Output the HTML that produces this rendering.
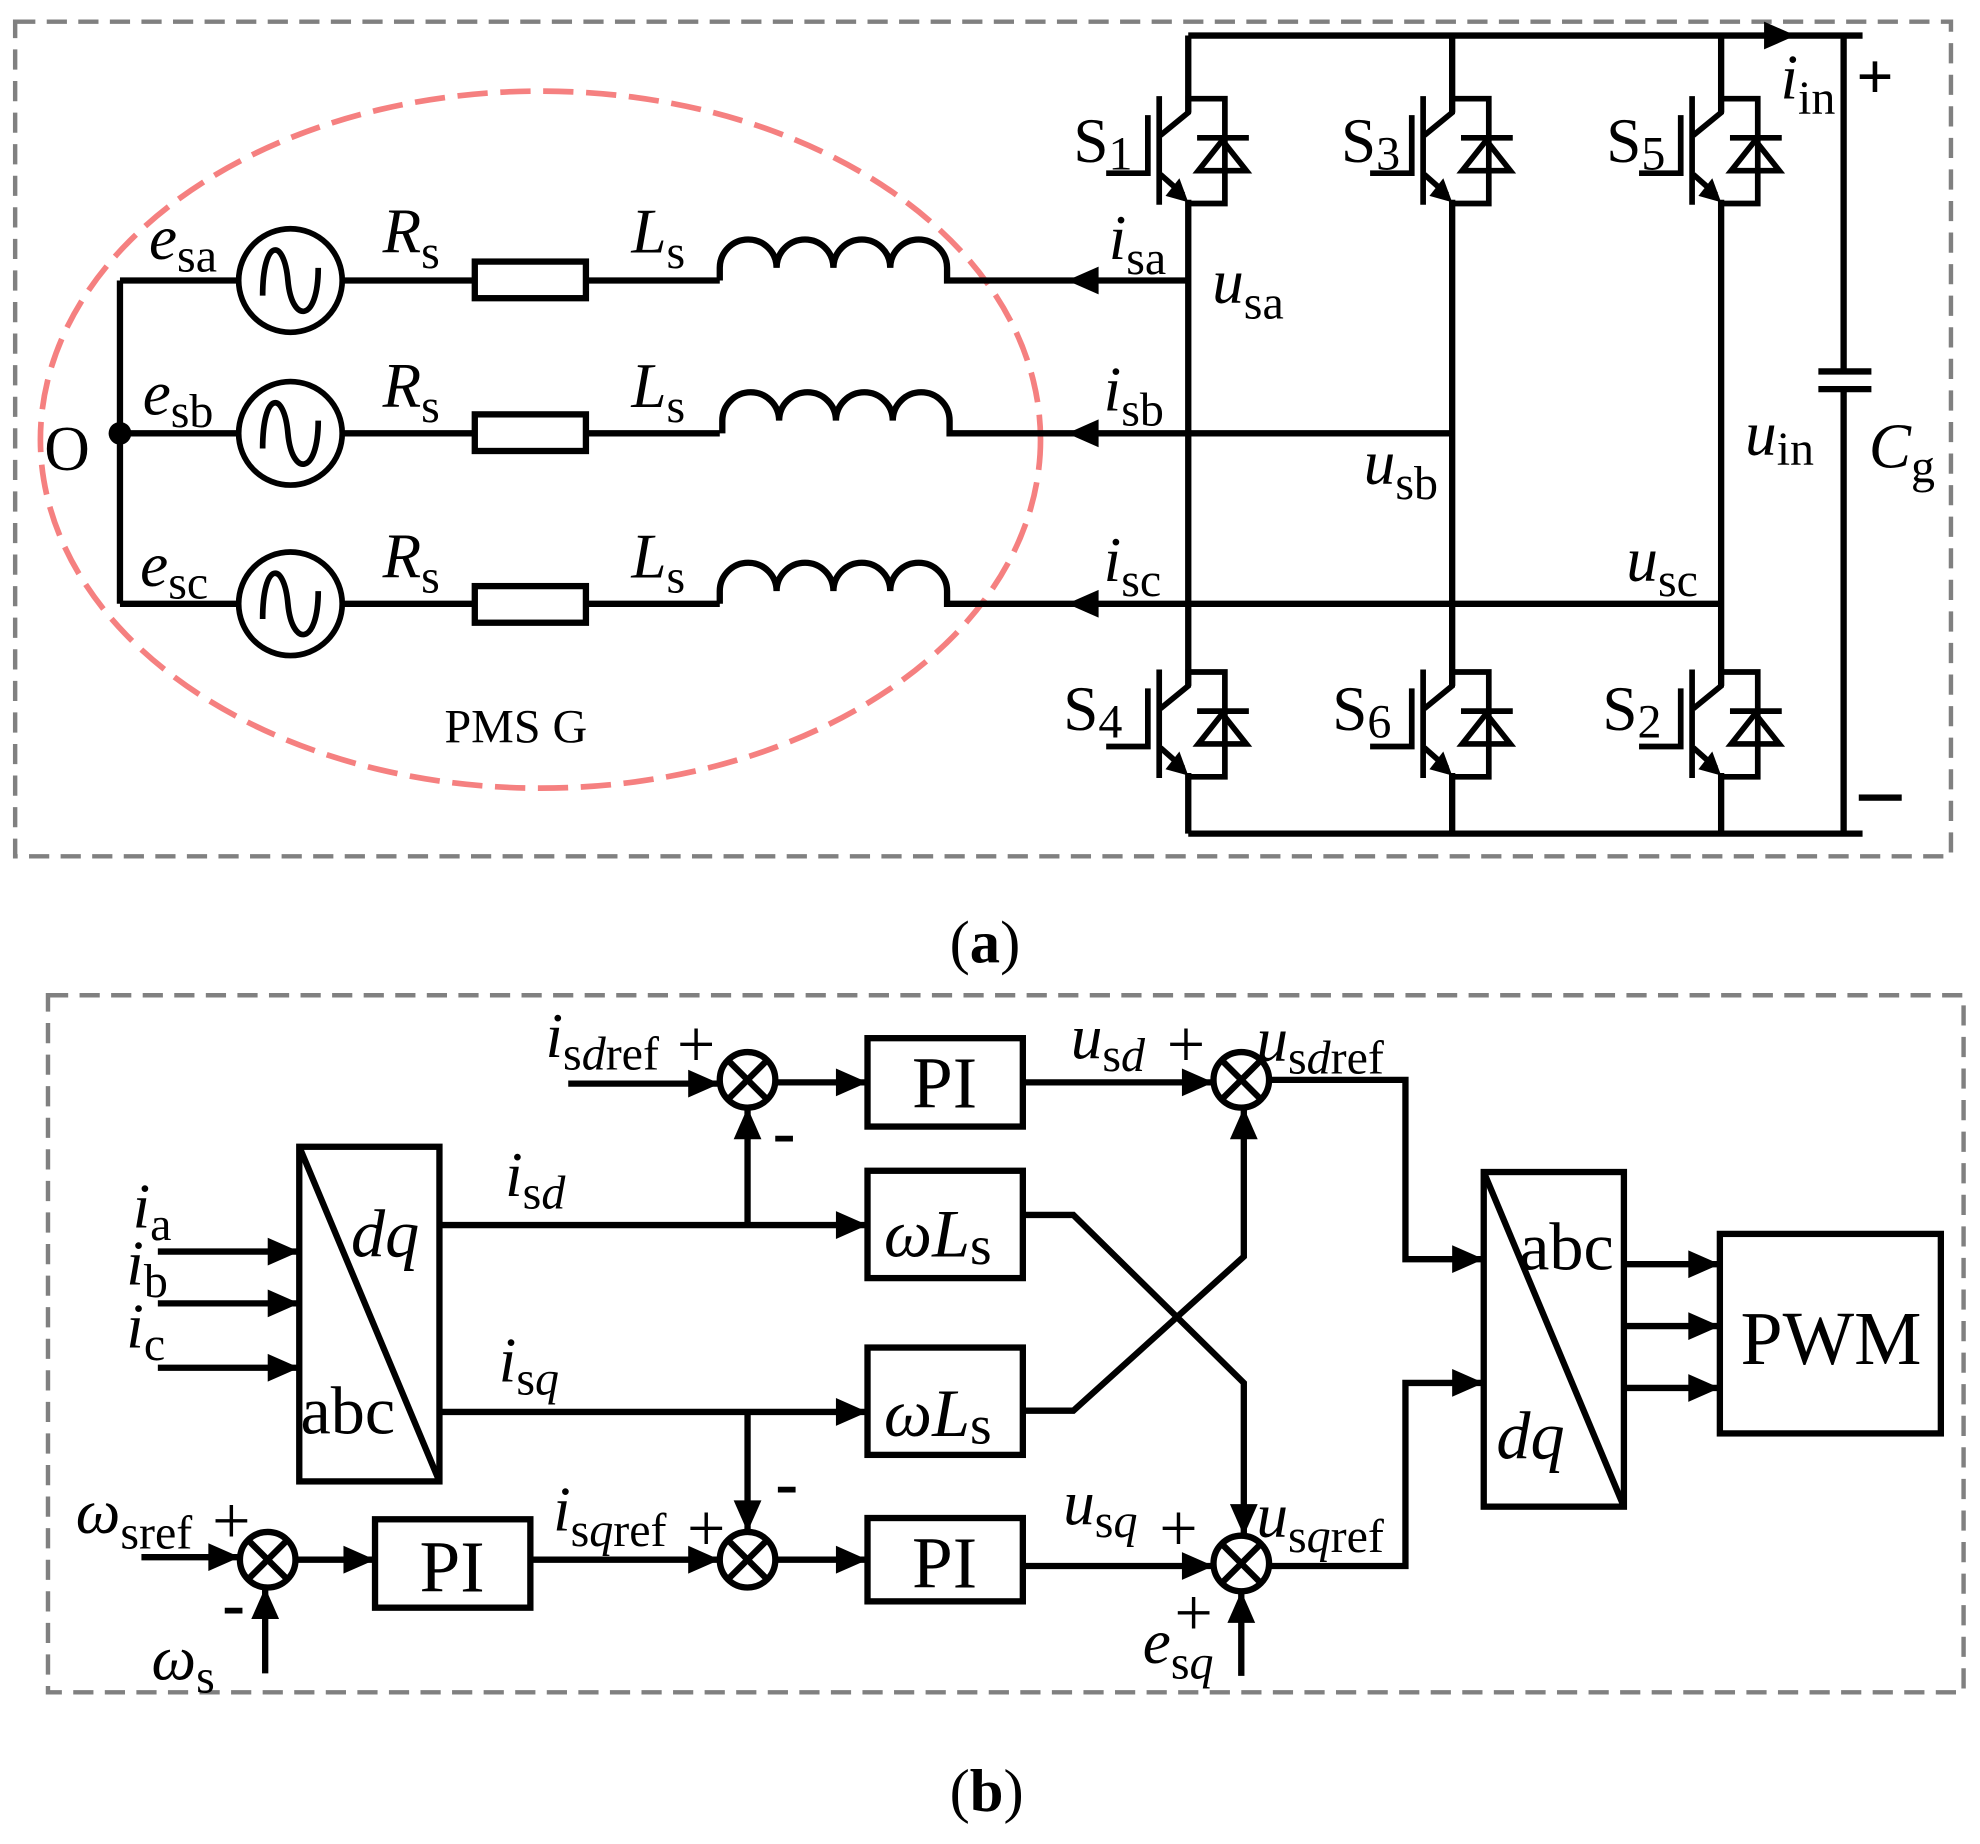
<!DOCTYPE html>
<html><head><meta charset="utf-8"><style>
html,body{margin:0;padding:0;background:#fff;}
svg{display:block;}
text{font-family:"Liberation Serif",serif;fill:#000;}
.i{font-style:italic;}
</style></head><body>
<svg width="1980" height="1844" viewBox="0 0 1568 1460" xmlns="http://www.w3.org/2000/svg">
<defs>
<g id="igbt" fill="none" stroke="#000" stroke-width="4.5">
  <path d="M-23,-2 V84"/>
  <path d="M-65,59 H-32 V13"/>
  <path d="M-22,29 L0,11 V0 H29 V83 H0"/>
  <path d="M-22,60 L-4,76"/>
  <polygon points="0,82 -18,77 -7,63" fill="#000" stroke="none"/>
  <path d="M7,31 H48"/>
  <polygon points="27,33 8,57 46,57" stroke-width="4.5"/>
</g>
<g id="src" fill="none" stroke="#000" stroke-width="4.5">
  <circle cx="0" cy="0" r="41"/>
  <path d="M-22,12 C-22,-34 -5,-34 -2,0 C1,34 22,34 22,-10"/>
</g>
<g id="sum" fill="#fff" stroke="#000" stroke-width="5">
  <circle cx="0" cy="0" r="22"/>
  <path d="M-15,-15 L15,15 M15,-15 L-15,15"/>
</g>
<path id="ah" d="M0,0 L-25,-11 L-25,11 Z" fill="#000"/>
</defs>

<rect x="12" y="17" width="1533" height="661" fill="none" stroke="#808080" stroke-width="3.5" stroke-dasharray="16,9"/>
<ellipse cx="428" cy="348" rx="396" ry="276" fill="none" stroke="#f58080" stroke-width="4.5" stroke-dasharray="24,10"/>

<g fill="none" stroke="#000" stroke-width="5">
  <path d="M95,222 V478"/>
  <path d="M95,222 H189 M271,222 H376 M464,222 H570 M95,343 H189 M271,343 H376 M464,343 H570 M95,478 H189 M271,478 H376 M464,478 H570"/>
  <rect x="376" y="207" width="88" height="29"/>
  <rect x="376" y="328" width="88" height="29"/>
  <rect x="376" y="464" width="88" height="29"/>
  <path d="M570,222 V212 A22.5,22.5 0 0 1 615,212 A22.5,22.5 0 0 1 660,212 A22.5,22.5 0 0 1 705,212 A22.5,22.5 0 0 1 750,212 V222 H941"/>
  <path d="M572,343 V333 A22.5,22.5 0 0 1 617,333 A22.5,22.5 0 0 1 662,333 A22.5,22.5 0 0 1 707,333 A22.5,22.5 0 0 1 752,333 V343 H1150"/>
  <path d="M570,478 V468 A22.5,22.5 0 0 1 615,468 A22.5,22.5 0 0 1 660,468 A22.5,22.5 0 0 1 705,468 A22.5,22.5 0 0 1 750,468 V478 H1363"/>
  <path d="M941,28 H1475 M941,660 H1475"/>
  <path d="M1460,28 V294 M1460,308 V660"/>
  <path d="M1440,294 H1482 M1440,308 H1482"/>
  <path d="M941,28 V89 M941,158 V543 M941,612 V660"/>
  <path d="M1150,28 V89 M1150,158 V543 M1150,612 V660"/>
  <path d="M1363,28 V89 M1363,158 V543 M1363,612 V660"/>
</g>
<circle cx="95" cy="343" r="9" fill="#000"/>
<use href="#src" x="230" y="222"/>
<use href="#src" x="230" y="343"/>
<use href="#src" x="230" y="478"/>
<use href="#ah" transform="translate(845,222) rotate(180)"/>
<use href="#ah" transform="translate(845,343) rotate(180)"/>
<use href="#ah" transform="translate(845,478) rotate(180)"/>
<use href="#ah" transform="translate(1422,28)"/>

<use href="#igbt" x="941" y="78"/>
<use href="#igbt" x="1150" y="78"/>
<use href="#igbt" x="1363" y="78"/>
<use href="#igbt" x="941" y="532"/>
<use href="#igbt" x="1150" y="532"/>
<use href="#igbt" x="1363" y="532"/>

<g font-size="50">
  <text x="850" y="128">S<tspan font-size="38" dy="6">1</tspan></text>
  <text x="1062" y="128">S<tspan font-size="38" dy="6">3</tspan></text>
  <text x="1272" y="128">S<tspan font-size="38" dy="6">5</tspan></text>
  <text x="842" y="578">S<tspan font-size="38" dy="6">4</tspan></text>
  <text x="1055" y="578">S<tspan font-size="38" dy="6">6</tspan></text>
  <text x="1269" y="578">S<tspan font-size="38" dy="6">2</tspan></text>
  <text x="35" y="372">O</text>
  <text x="118" y="205" class="i">e<tspan font-size="38" font-style="normal" dy="10">sa</tspan></text>
  <text x="113" y="328" class="i">e<tspan font-size="38" font-style="normal" dy="10">sb</tspan></text>
  <text x="111" y="464" class="i">e<tspan font-size="38" font-style="normal" dy="10">sc</tspan></text>
  <text x="303" y="200" class="i">R<tspan font-size="38" font-style="normal" dy="12">s</tspan></text>
  <text x="303" y="322" class="i">R<tspan font-size="38" font-style="normal" dy="12">s</tspan></text>
  <text x="303" y="457" class="i">R<tspan font-size="38" font-style="normal" dy="12">s</tspan></text>
  <text x="500" y="200" class="i">L<tspan font-size="38" font-style="normal" dy="12">s</tspan></text>
  <text x="500" y="322" class="i">L<tspan font-size="38" font-style="normal" dy="12">s</tspan></text>
  <text x="500" y="457" class="i">L<tspan font-size="38" font-style="normal" dy="12">s</tspan></text>
  <text x="878" y="205" class="i">i<tspan font-size="38" font-style="normal" dy="12">sa</tspan></text>
  <text x="874" y="325" class="i">i<tspan font-size="38" font-style="normal" dy="12">sb</tspan></text>
  <text x="874" y="460" class="i">i<tspan font-size="38" font-style="normal" dy="12">sc</tspan></text>
  <text x="960" y="240" class="i">u<tspan font-size="38" font-style="normal" dy="12">sa</tspan></text>
  <text x="1080" y="383" class="i">u<tspan font-size="38" font-style="normal" dy="12">sb</tspan></text>
  <text x="1288" y="460" class="i">u<tspan font-size="38" font-style="normal" dy="12">sc</tspan></text>
  <text x="1382" y="360" class="i">u<tspan font-size="38" font-style="normal" dy="8">in</tspan></text>
  <text x="1410" y="78" class="i">i<tspan font-size="38" font-style="normal" dy="12">in</tspan></text>
  <text x="1480" y="370" class="i">C<tspan font-size="38" font-style="normal" dy="12">g</tspan></text>
  <text x="1470" y="78" font-weight="bold" font-size="52">+</text>
  <text x="752" y="762" font-size="48">(<tspan font-weight="bold">a</tspan>)</text>
  <text x="752" y="1434" font-size="48">(<tspan font-weight="bold">b</tspan>)</text>
</g>
<rect x="1472" y="629" width="34" height="5" fill="#000"/>
<text x="352" y="588" font-size="38">PMS G</text>

<rect x="38" y="788" width="1517" height="552" fill="none" stroke="#808080" stroke-width="3.5" stroke-dasharray="16,9"/>
<g fill="none" stroke="#000" stroke-width="5">
  <rect x="237" y="908" width="111" height="265"/>
  <path d="M237,908 L348,1173"/>
  <rect x="1175" y="928" width="111" height="265"/>
  <path d="M1175,928 L1286,1193"/>
  <rect x="1362" y="977" width="175" height="158"/>
  <rect x="687" y="822" width="123" height="70"/>
  <rect x="687" y="1202" width="123" height="66"/>
  <rect x="297" y="1203" width="123" height="70"/>
  <rect x="687" y="927" width="123" height="85"/>
  <rect x="687" y="1067" width="123" height="85"/>
  <path d="M450,858 H570 M614,857 H687 M810,857 H961"/>
  <path d="M348,970 H687 M592,970 V877"/>
  <path d="M348,1118 H687 M592,1118 V1213"/>
  <path d="M810,962 H850 L985,1095 V1216"/>
  <path d="M810,1117 H850 L985,995 V877"/>
  <path d="M1005,855 H1113 V997 H1175"/>
  <path d="M1005,1240 H1113 V1095 H1175"/>
  <path d="M1286,1001 H1362 M1286,1050 H1362 M1286,1099 H1362"/>
  <path d="M125,991 H237 M125,1032 H237 M125,1083 H237"/>
  <path d="M112,1233 H190 M210,1325 V1257 M234,1235 H297 M420,1235 H570 M614,1235 H687 M810,1240 H961 M983,1327 V1260"/>
</g>
<g>
  <use href="#ah" transform="translate(570,858)"/>
  <use href="#ah" transform="translate(687,857)"/>
  <use href="#ah" transform="translate(961,857)"/>
  <use href="#ah" transform="translate(687,970)"/>
  <use href="#ah" transform="translate(592,877) rotate(-90)"/>
  <use href="#ah" transform="translate(687,1118)"/>
  <use href="#ah" transform="translate(592,1213) rotate(90)"/>
  <use href="#ah" transform="translate(985,1216) rotate(90)"/>
  <use href="#ah" transform="translate(985,877) rotate(-90)"/>
  <use href="#ah" transform="translate(1175,997)"/>
  <use href="#ah" transform="translate(1175,1095)"/>
  <use href="#ah" transform="translate(1362,1001)"/>
  <use href="#ah" transform="translate(1362,1050)"/>
  <use href="#ah" transform="translate(1362,1099)"/>
  <use href="#ah" transform="translate(237,991)"/>
  <use href="#ah" transform="translate(237,1032)"/>
  <use href="#ah" transform="translate(237,1083)"/>
  <use href="#ah" transform="translate(190,1233)"/>
  <use href="#ah" transform="translate(210,1257) rotate(-90)"/>
  <use href="#ah" transform="translate(297,1235)"/>
  <use href="#ah" transform="translate(570,1235)"/>
  <use href="#ah" transform="translate(687,1235)"/>
  <use href="#ah" transform="translate(961,1240)"/>
  <use href="#ah" transform="translate(983,1260) rotate(-90)"/>
</g>
<use href="#sum" x="592" y="855"/>
<use href="#sum" x="983" y="855"/>
<use href="#sum" x="212" y="1235"/>
<use href="#sum" x="592" y="1235"/>
<use href="#sum" x="983" y="1238"/>

<g font-size="50">
  <text x="748" y="877" text-anchor="middle" font-size="58">PI</text>
  <text x="748" y="1257" text-anchor="middle" font-size="58">PI</text>
  <text x="358" y="1260" text-anchor="middle" font-size="58">PI</text>
  <text x="1450" y="1080" text-anchor="middle" font-size="60">PWM</text>
  <text x="700" y="995" class="i" font-size="54">ω<tspan font-size="54">L</tspan><tspan font-style="normal" font-size="44" dy="6">s</tspan></text>
  <text x="700" y="1137" class="i" font-size="54">ω<tspan font-size="54">L</tspan><tspan font-style="normal" font-size="44" dy="6">s</tspan></text>
  <text x="278" y="995" class="i" font-size="54">dq</text>
  <text x="238" y="1135" font-size="54">abc</text>
  <text x="1203" y="1005" font-size="54">abc</text>
  <text x="1185" y="1155" class="i" font-size="54">dq</text>
  <text x="432" y="837" class="i">i<tspan font-style="normal" font-size="38" dy="10">s<tspan font-style="italic">d</tspan>ref</tspan></text>
  <text x="536" y="845" font-size="54">+</text>
  <text x="612" y="914" font-size="54" font-weight="bold">-</text>
  <text x="848" y="838" class="i">u<tspan font-style="normal" font-size="38" dy="10">s<tspan font-style="italic">d</tspan></tspan></text>
  <text x="924" y="845" font-size="54">+</text>
  <text x="995" y="840" class="i">u<tspan font-style="normal" font-size="38" dy="10">s<tspan font-style="italic">d</tspan>ref</tspan></text>
  <text x="400" y="947" class="i">i<tspan font-style="normal" font-size="38" dy="10">s<tspan font-style="italic">d</tspan></tspan></text>
  <text x="395" y="1094" class="i">i<tspan font-style="normal" font-size="38" dy="10">s<tspan font-style="italic">q</tspan></tspan></text>
  <text x="105" y="972" class="i">i<tspan font-style="normal" font-size="38" dy="10">a</tspan></text>
  <text x="100" y="1017" class="i">i<tspan font-style="normal" font-size="38" dy="10">b</tspan></text>
  <text x="100" y="1067" class="i">i<tspan font-style="normal" font-size="38" dy="10">c</tspan></text>
  <text x="60" y="1214" class="i">ω<tspan font-style="normal" font-size="38" dy="12">sref</tspan></text>
  <text x="168" y="1222" font-size="54">+</text>
  <text x="176" y="1288" font-size="54" font-weight="bold">-</text>
  <text x="120" y="1330" class="i">ω<tspan font-style="normal" font-size="38" dy="10">s</tspan></text>
  <text x="438" y="1212" class="i">i<tspan font-style="normal" font-size="38" dy="12">s<tspan font-style="italic">q</tspan>ref</tspan></text>
  <text x="544" y="1228" font-size="54">+</text>
  <text x="614" y="1192" font-size="54" font-weight="bold">-</text>
  <text x="842" y="1207" class="i">u<tspan font-style="normal" font-size="38" dy="10">s<tspan font-style="italic">q</tspan></tspan></text>
  <text x="918" y="1228" font-size="54">+</text>
  <text x="995" y="1217" class="i">u<tspan font-style="normal" font-size="38" dy="12">s<tspan font-style="italic">q</tspan>ref</tspan></text>
  <text x="905" y="1317" class="i">e<tspan font-style="normal" font-size="38" dy="12">s<tspan font-style="italic">q</tspan></tspan></text>
  <text x="930" y="1295" font-size="54">+</text>
</g>
</svg>
</body></html>
